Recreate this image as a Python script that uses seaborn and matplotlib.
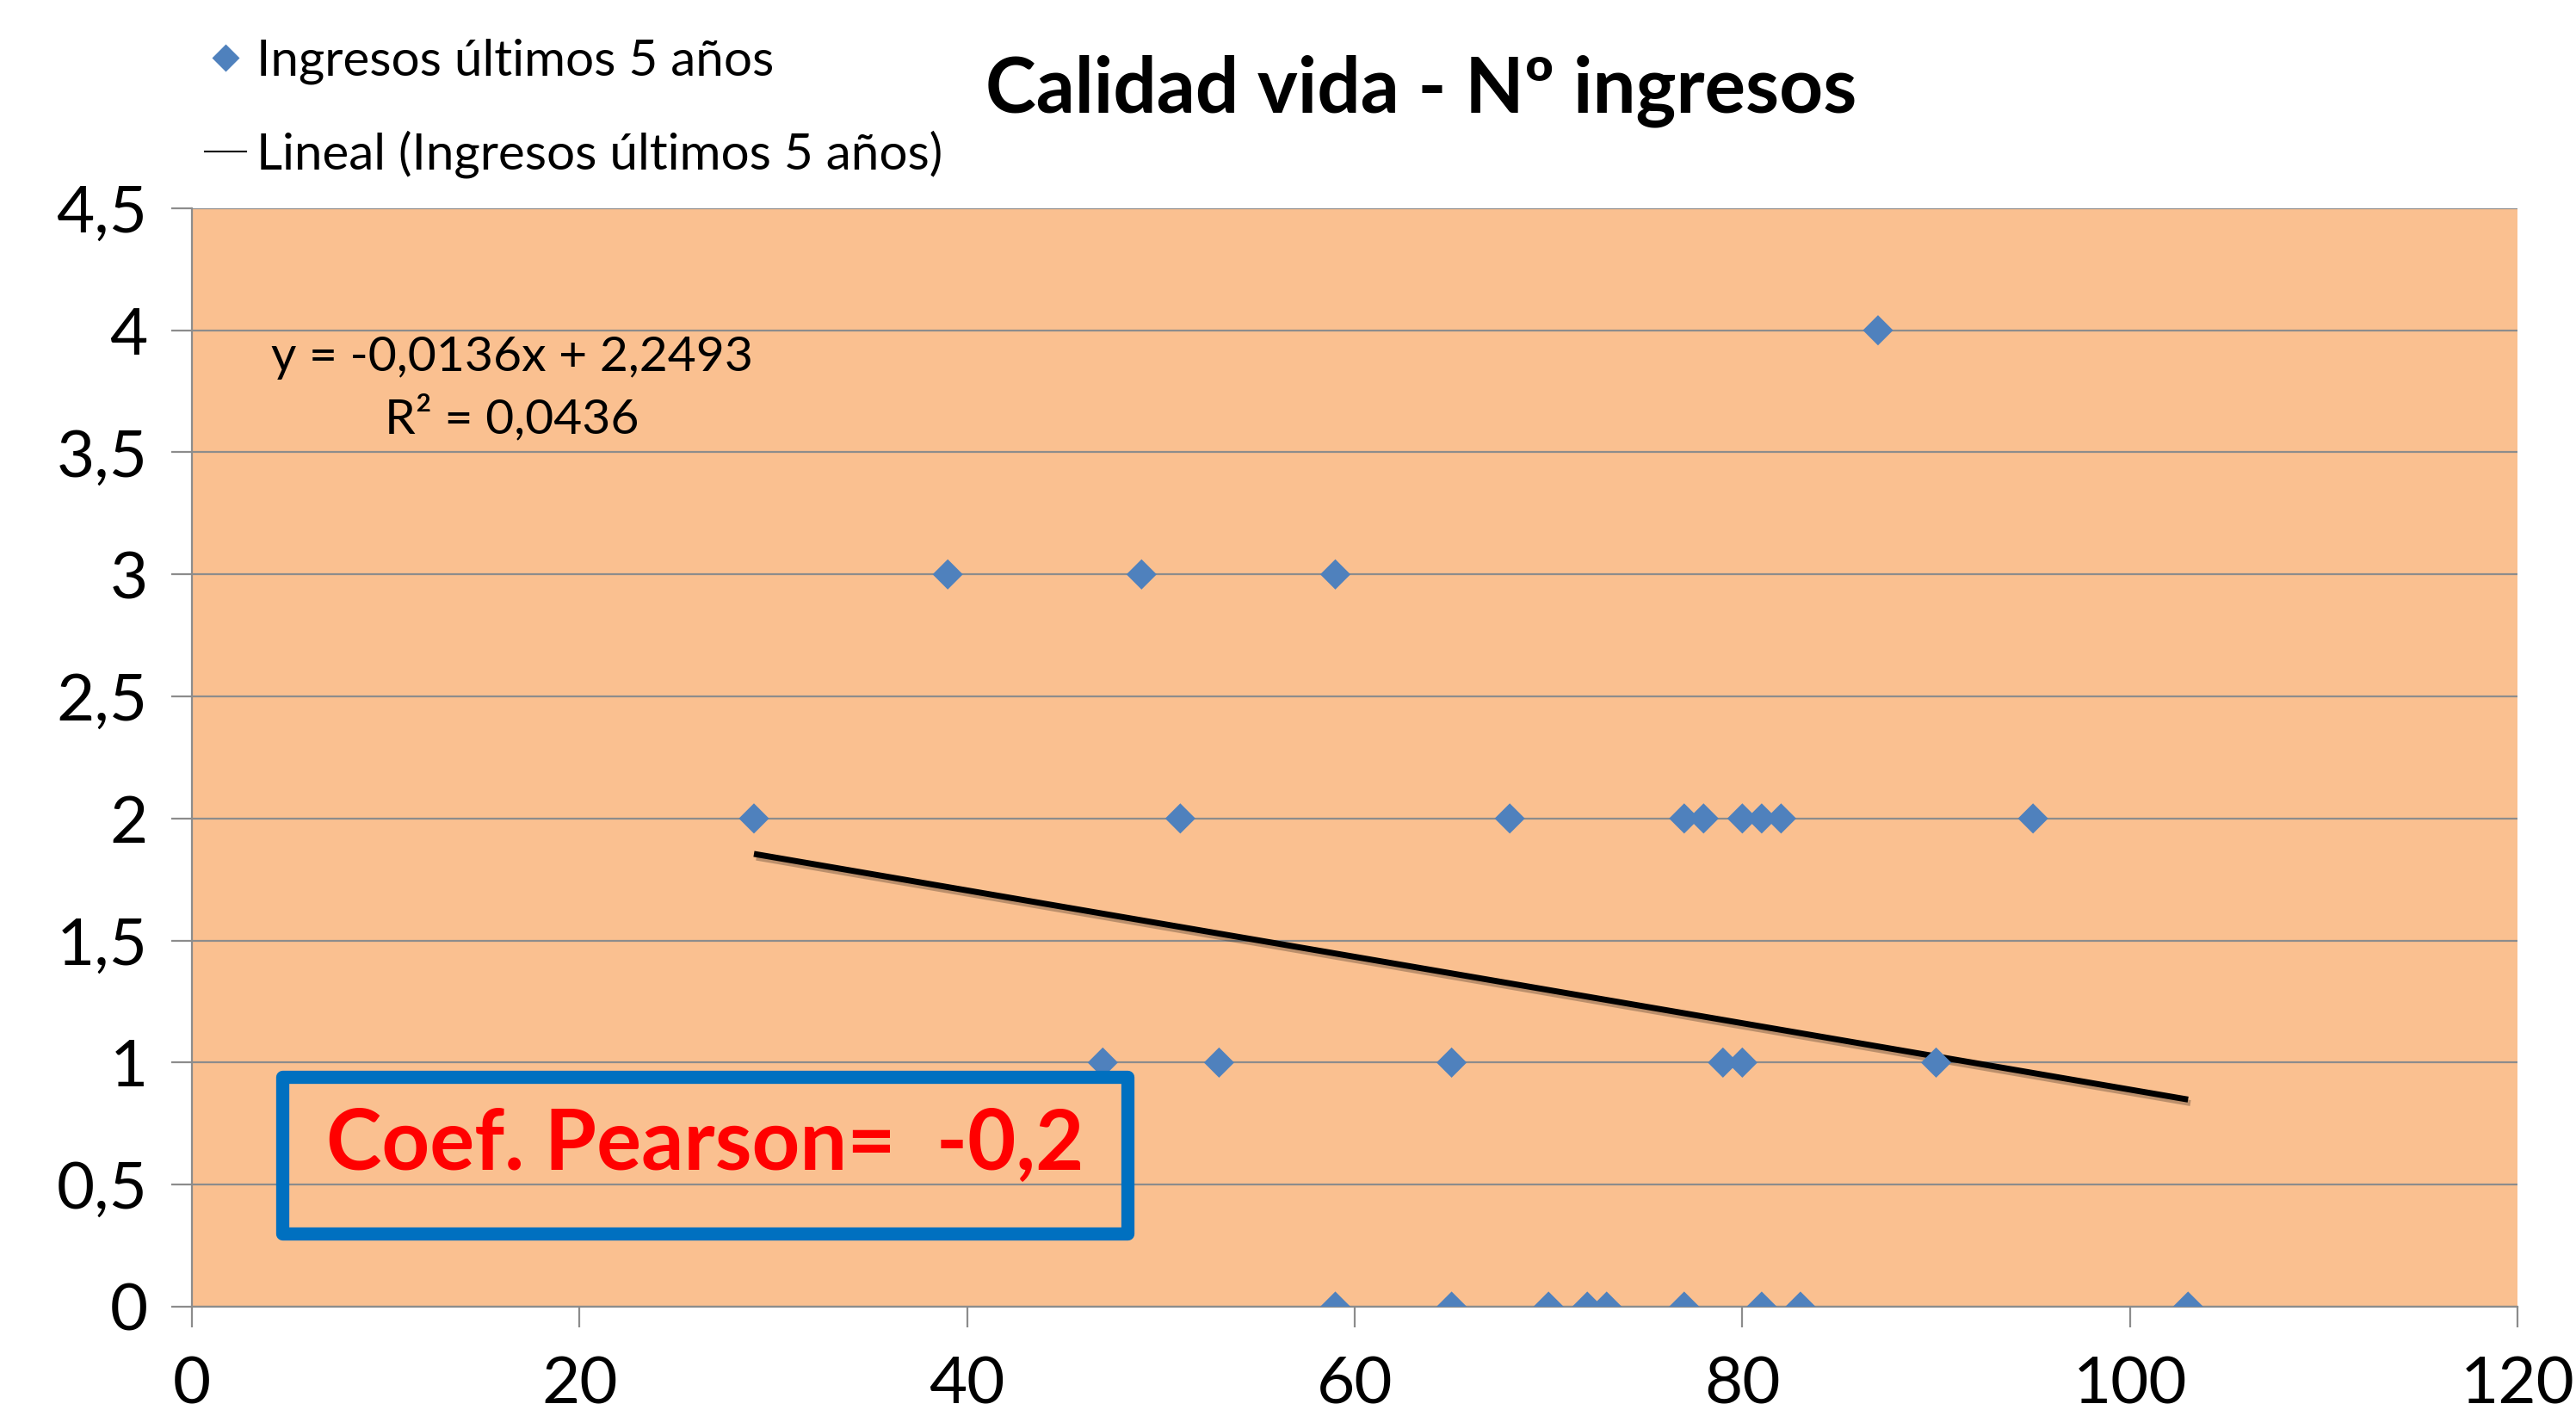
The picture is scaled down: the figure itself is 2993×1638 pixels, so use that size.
import matplotlib
matplotlib.use('Agg')
import matplotlib.pyplot as plt
import matplotlib.patheffects as pe
from matplotlib.lines import Line2D
from matplotlib.patches import Rectangle
import numpy as np
import pandas as pd
import seaborn as sns

# Data
calidad_vida = [87,
                39, 49, 59,
                29, 51, 68, 77, 78, 80, 81, 82, 95,
                47, 53, 65, 79, 80, 90,
                59, 65, 70, 72, 73, 77, 81, 83, 103]
ingresos = [4,
            3, 3, 3,
            2, 2, 2, 2, 2, 2, 2, 2, 2,
            1, 1, 1, 1, 1, 1,
            0, 0, 0, 0, 0, 0, 0, 0, 0]

# Excel trend line as printed on the chart
slope = -0.0136
intercept = 2.2493
r2_text = 'R² = 0,0436'
eq_text = 'y = -0,0136x + 2,2493'
pearson_text = 'Coef. Pearson=  -0,2'

x_ticks = [0, 20, 40, 60, 80, 100, 120]
y_ticks = [0, 0.5, 1, 1.5, 2, 2.5, 3, 3.5, 4, 4.5]
y_tick_labels = ['0', '0,5', '1', '1,5', '2', '2,5', '3', '3,5', '4', '4,5']

series_name = 'Ingresos últimos 5 años'
trend_name = 'Lineal (Ingresos últimos 5 años)'

df = pd.DataFrame({'x': calidad_vida, 'y': ingresos})

plt.rcParams['font.family'] = ['Lato', 'DejaVu Sans']

fig = plt.figure(figsize=(29.93, 16.38), dpi=100)
ax = fig.add_axes([0.0745, 0.0733, 0.9028, 0.779])
ax.set_facecolor('#FAC090')

grid_col = '#8C8C8C'
blue = '#4F81BD'

# scatter points
sns.scatterplot(data=df, x='x', y='y', marker='D', s=320, color=blue,
                edgecolor='none', ax=ax, zorder=4, legend=False)

# linear trend line from min to max x
tx = np.array([min(calidad_vida), max(calidad_vida)])
ty = slope * tx + intercept
ax.plot(tx, ty, color='black', lw=5, solid_capstyle='butt', zorder=3,
        path_effects=[pe.SimpleLineShadow(offset=(2, -3), alpha=0.25), pe.Normal()])

ax.set_xlim(0, 120)
ax.set_ylim(0, 4.5)
ax.set_xticks(x_ticks)
ax.set_xticklabels([str(v) for v in x_ticks])
ax.set_yticks(y_ticks)
ax.set_yticklabels(y_tick_labels)
ax.set_xlabel('')
ax.set_ylabel('')

ax.grid(axis='y', color=grid_col, lw=1.6, zorder=1)
ax.set_axisbelow(True)
for s in ['top', 'right']:
    ax.spines[s].set_visible(False)
for s in ['left', 'bottom']:
    ax.spines[s].set_color(grid_col)
    ax.spines[s].set_linewidth(1.6)
ax.tick_params(axis='both', direction='out', length=17, width=1.6, color=grid_col,
               labelsize=55, labelcolor='black')
ax.tick_params(axis='x', pad=24)
ax.tick_params(axis='y', pad=20)

# regression label
ax.text(16.5, 3.76, eq_text + '\n' + r2_text, fontsize=41, ha='center', va='center',
        multialignment='center', linespacing=1.4, zorder=5)

# Pearson box
ax.add_patch(Rectangle((4.66, 0.298), 48.27 - 4.66, 0.94 - 0.298, fill=False,
                       edgecolor='#0070C0', lw=11, joinstyle='round', zorder=5))
ax.text(26.5, 0.66, pearson_text, fontsize=70, fontweight='bold', color='#FF0000',
        ha='center', va='center', zorder=6)

# title
fig.text(1651 / 2993, 1 - 106 / 1638, 'Calidad vida - Nº ingresos', fontsize=64,
         fontweight='bold', ha='center', va='center')

# legend in the top left corner
handles = [Line2D([], [], ls='none', marker='D', markersize=np.sqrt(320) * 0.9,
                  color=blue, markeredgecolor='none'),
           Line2D([], [], color='black', lw=1.5)]
ax.legend(handles, [series_name, trend_name], loc='upper left',
          bbox_to_anchor=(238 / 2993, 1 - 44 / 1638),
          bbox_transform=fig.transFigure, frameon=False, fontsize=42,
          handlelength=0.83, handletextpad=0.2, labelspacing=0.92,
          borderpad=0, borderaxespad=0)

fig.savefig('out.png', dpi=100, facecolor='white')
